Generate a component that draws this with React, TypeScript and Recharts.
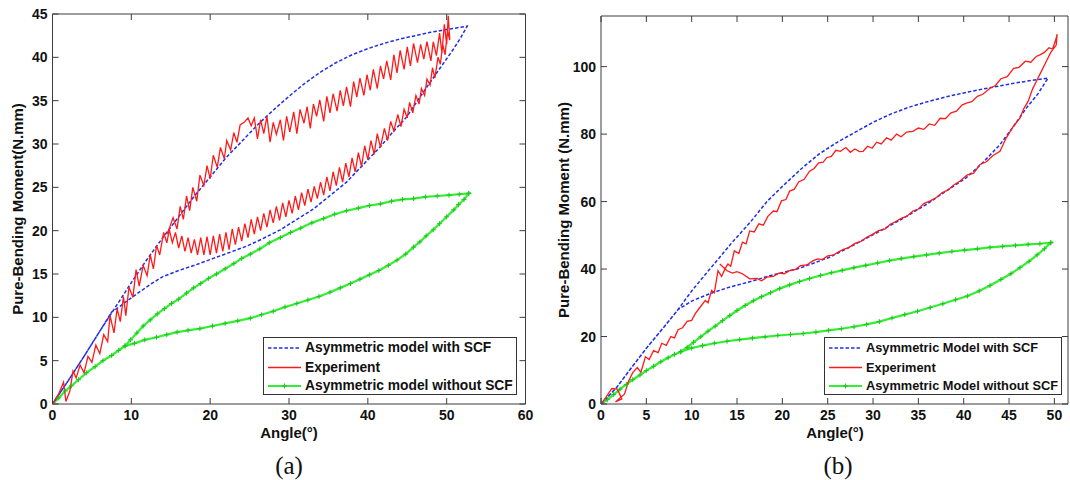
import { LineChart, Line, XAxis, YAxis } from 'recharts'

// ---------- panel (a) ----------
const A_X_TICKS = [0, 10, 20, 30, 40, 50, 60]
const A_Y_TICKS = [0, 5, 10, 15, 20, 25, 30, 35, 40, 45]

const aModelSCFLoad = [
  [0, 0], [2, 2.7], [4, 5.5], [6, 8.4], [8, 11.2], [10, 14], [12, 16.7], [14, 19.2], [16, 21.6],
  [18, 24], [20, 26.2], [22, 28.4], [24, 30.3], [26, 32.2], [28, 33.9], [30, 35.5], [32, 37],
  [34, 38.3], [36, 39.4], [38, 40.3], [40, 41], [42, 41.6], [44, 42.1], [46, 42.5], [48, 42.9],
  [50, 43.2], [52.6, 43.6],
]
const aModelSCFUnload = [
  [52.6, 43.6], [51.8, 42.3], [50.9, 41], [49.2, 38.8], [47.5, 36.6], [44.9, 33.1], [43, 31.2],
  [41.6, 29.7], [39.5, 27.7], [37.3, 25.6], [35, 23.9], [33.1, 22.5], [31, 21.3], [28.9, 20.1],
  [26.5, 19], [24.6, 18.2], [22.5, 17.5], [20.4, 16.8], [18, 16], [16, 15.4], [14, 14.7],
  [12.4, 13.8], [11, 12.9], [9.6, 12], [8.6, 11.3], [7.5, 10.6], [6, 8.4], [4, 5.5], [2, 2.7], [0, 0],
]

const aExperimentLoad = [
  [0, 0], [0.8, 1.2], [1.4, 2.5], [1.7, 0.3], [2.2, 1.5], [2.6, 3.8], [3, 3], [3.5, 4.5], [4, 3.6],
  [4.5, 5.5], [5, 4.8], [5.5, 6.8], [6, 5.8], [6.5, 8], [7, 7.2], [7.3, 10.2], [7.8, 8.2], [8.2, 11],
  [8.6, 9.5], [9, 12.4], [9.3, 10.2], [9.7, 13.5], [10.2, 12.3], [10.6, 15.5], [11, 13.6],
  [11.5, 16], [12, 14.8], [12.4, 17.2], [12.8, 15.6], [13.2, 18.3], [13.6, 17.2], [14.1, 19.8],
  [14.5, 18.6], [14.9, 20.5], [15.3, 21.5], [15.8, 20.2], [16.2, 22.8], [16.6, 21.3], [17, 24],
  [17.4, 22.3], [17.8, 25], [18.3, 23.4], [18.7, 26.4], [19.2, 25.2], [19.6, 27.5], [20, 26],
  [20.4, 28.7], [20.9, 27.3], [21.3, 29.6], [21.8, 28.3], [22.1, 30.4], [22.6, 29.3], [23, 31.3],
  [23.4, 30.2], [23.8, 32.2], [24.3, 32.5], [24.8, 33], [25.2, 32.1], [25.6, 33], [26, 30.6],
  [26.4, 32.8], [26.8, 31.2], [27.2, 33.2], [27.6, 30.2], [28, 32.5], [28.4, 31.1], [28.9, 32.8],
  [29.3, 30.4], [29.7, 33.2], [30.1, 31.4], [30.6, 33.7], [31, 31.2], [31.4, 34], [31.9, 32.4],
  [32.3, 34.3], [32.7, 31.8], [33.1, 34.6], [33.5, 33.2], [33.9, 35.1], [34.4, 32.6], [34.8, 35.5],
  [35.2, 33.6], [35.6, 35.8], [36.1, 33.8], [36.5, 36.2], [36.9, 34.4], [37.3, 36.6], [37.8, 34.3],
  [38.2, 37.2], [38.6, 35.4], [39, 37.6], [39.5, 35.6], [39.9, 38], [40.3, 36.2], [40.7, 38.6],
  [41.2, 36.4], [41.6, 39], [42, 37.5], [42.4, 39.6], [42.9, 37.4], [43.3, 40.3], [43.7, 38.2],
  [44.1, 40.8], [44.6, 38.6], [45, 41.2], [45.4, 39], [45.8, 41.6], [46.3, 39.4], [46.7, 41.5],
  [47.1, 39.8], [47.5, 41.8], [48, 39.6], [48.3, 41.8], [48.7, 40.2], [49.1, 42.8], [49.4, 40.5],
  [49.7, 43.8], [50, 41.5], [50.2, 44.8], [50.4, 42],
]
const aExperimentUnload = [
  [50.4, 42], [50.1, 43], [49.8, 40.3], [49.5, 41.5], [49.2, 39.2], [48.9, 40], [48.5, 37.6],
  [48.2, 38.8], [47.9, 36.8], [47.5, 37.5], [47.2, 35.6], [46.8, 36.4], [46.5, 34.6], [46.1, 35.6],
  [45.7, 33.6], [45.3, 34.8], [45, 33], [44.6, 34], [44.2, 32], [43.8, 33.4], [43.3, 31.5],
  [42.9, 32.6], [42.5, 30.4], [42.1, 31.8], [41.6, 29.6], [41.2, 31.2], [40.8, 28.8], [40.4, 30.4],
  [40, 28.2], [39.6, 29.8], [39.2, 27.4], [38.8, 29], [38.4, 26.8], [38, 28.4], [37.6, 26.2],
  [37.2, 27.8], [36.8, 25.6], [36.4, 27.3], [36, 25.2], [35.6, 26.8], [35.2, 24.6], [34.8, 26.2],
  [34.4, 24.1], [34, 25.6], [33.6, 23.7], [33.2, 25.1], [32.8, 23.3], [32.4, 24.8], [32, 22.9],
  [31.6, 24.4], [31.2, 22.4], [30.8, 24], [30.4, 22], [30, 23.5], [29.6, 21.6], [29.2, 23.2],
  [28.8, 21.2], [28.4, 22.8], [28, 20.9], [27.6, 22.4], [27.2, 20.4], [26.8, 22], [26.4, 20],
  [26, 21.6], [25.6, 19.6], [25.2, 21.3], [24.8, 19.2], [24.4, 20.8], [24, 18.8], [23.6, 20.4],
  [23.2, 18.4], [22.8, 20.2], [22.4, 17.8], [22, 19.8], [21.6, 17.6], [21.2, 19.6], [20.8, 17.4],
  [20.4, 19.4], [20, 17.2], [19.6, 19.3], [19.2, 17.2], [18.8, 19.2], [18.4, 17.2], [18, 19],
  [17.6, 17.4], [17.2, 19.2], [16.8, 17.6], [16.4, 19.4], [16, 18], [15.6, 19.8], [15.2, 18.6],
  [14.8, 20.2], [14.5, 19.6],
]

const aModelNoSCFLoad = [
  [0, 0], [0.8, 0.7], [1.6, 1.5], [2.4, 2.1], [3.3, 2.8], [4.3, 3.6], [5.4, 4.3], [6.4, 5],
  [7.5, 5.6], [8.4, 6.2], [9.2, 6.7], [9.9, 7.4], [10.7, 8.2], [11.5, 9], [12.4, 9.7], [13.3, 10.4],
  [14.2, 11], [15.1, 11.6], [16, 12.1], [17, 12.8], [17.9, 13.4], [18.8, 13.9], [19.8, 14.5],
  [20.8, 15], [21.9, 15.6], [23, 16.2], [24, 16.8], [25.1, 17.3], [26.3, 17.9], [27.5, 18.6],
  [28.9, 19.2], [30.2, 19.8], [31.5, 20.3], [32.9, 20.9], [34.4, 21.4], [35.8, 21.9], [37.3, 22.3],
  [38.8, 22.6], [40.2, 22.9], [41.6, 23.1], [43, 23.4], [44.4, 23.6], [45.8, 23.7], [47.3, 23.9],
  [48.8, 24], [50.3, 24.1], [51.6, 24.2], [52.8, 24.3],
]
const aModelNoSCFUnload = [
  [52.8, 24.3], [52.2, 23.6], [51.5, 23], [50.9, 22.4], [50, 21.6], [49.1, 20.8], [48.3, 20.1],
  [47.4, 19.4], [46.6, 18.7], [45.8, 18.1], [44.8, 17.3], [43.7, 16.6], [42.6, 16], [41.4, 15.4],
  [40.2, 14.9], [39, 14.4], [37.8, 13.9], [36.5, 13.4], [35.2, 12.9], [33.8, 12.4], [32.4, 12],
  [31, 11.6], [29.5, 11.2], [28, 10.7], [26.5, 10.3], [25.1, 9.9], [23.5, 9.6], [21.9, 9.3],
  [20.3, 9], [18.7, 8.7], [17.2, 8.5], [15.8, 8.3], [14.5, 8], [13.2, 7.7], [11.7, 7.4],
  [10.4, 7], [9.2, 6.7],
]

// ---------- panel (b) ----------
const B_X_TICKS = [0, 5, 10, 15, 20, 25, 30, 35, 40, 45, 50]
const B_Y_TICKS = [0, 20, 40, 60, 80, 100]

const bModelSCFLoad = [
  [0, 0], [1.7, 4.8], [3, 9.5], [5, 16.5], [7, 23], [8.5, 28], [10, 33.5], [12, 40], [14.5, 48],
  [16.5, 54], [18.3, 60], [20, 64.5], [22, 69.5], [24, 74], [26, 77.5], [28, 80.5], [30, 83.5],
  [32, 86], [34, 88], [36, 89.6], [38, 91], [40, 92.2], [42, 93.3], [44, 94.3], [46, 95.3],
  [48, 96.1], [49.3, 96.6],
]
const bModelSCFUnload = [
  [49.3, 96.6], [48.2, 92], [46.9, 87.7], [45.5, 82.3], [44, 76.9], [42.2, 71.8], [40.3, 67.1],
  [38, 63], [35.9, 59.2], [33.5, 55.3], [30.8, 51.3], [28, 47.3], [25.2, 43.5], [23.2, 41.5],
  [21.6, 40], [19, 38.3], [16.5, 36.3], [14, 34.5], [11.9, 32.6], [10, 30.5], [8.5, 28], [7, 23],
  [5, 16.5], [3, 9.5], [1.7, 4.8], [0, 0],
]

const bExperimentLoad = [
  [0, 0], [0.5, 1.8], [1.2, 4.6], [1.8, 4.4], [2.3, 1.5], [1.6, 0.6], [2.6, 3], [3, 6.5],
  [3.5, 9.3], [4, 10.8], [4.4, 9.4], [4.9, 14], [5.3, 13.2], [5.8, 15.8], [6.3, 15.2], [6.7, 18],
  [7.2, 17.4], [7.7, 20], [8.1, 19.6], [8.5, 22], [9, 22.6], [9.5, 24.5], [10, 24.8], [10.4, 26.8],
  [10.9, 28.6], [11.5, 30.7], [11.8, 30], [12.2, 33.7], [12.5, 33], [12.9, 39.5], [13.3, 37.8],
  [13.7, 40.2], [14, 41.5], [14.3, 40.8], [14.7, 45.4], [15.2, 44.6], [15.6, 48], [16, 47.5],
  [16.4, 51.3], [16.9, 51], [17.4, 53.4], [17.9, 53], [18.4, 55.6], [19, 57.2], [19.4, 57],
  [19.9, 60.2], [20.4, 60.6], [20.8, 63.1], [21.3, 63.6], [21.8, 65.8], [22.4, 66.6], [23, 69],
  [23.5, 69.8], [24, 71.5], [24.5, 71.7], [24.9, 73], [25.4, 73.4], [25.9, 75.2], [26.4, 74.9],
  [27, 76], [27.5, 74.6], [28, 75.6], [28.5, 74.8], [28.9, 74.9], [29.4, 76.4], [29.9, 75.8],
  [30.4, 77.6], [30.9, 77.1], [31.5, 78.9], [32, 78.2], [32.6, 80], [33.1, 79.2], [33.7, 80.6],
  [34.4, 80.8], [35, 81.8], [35.6, 81.4], [36.2, 83], [36.8, 82.6], [37.4, 84.7], [38, 84.6],
  [38.6, 86.3], [39.2, 86.8], [39.8, 88.6], [40.3, 89.2], [40.9, 89.6], [41.5, 91.2], [42.1, 91.8],
  [42.9, 93.6], [43.5, 94.4], [44.1, 96.4], [44.8, 97], [45.5, 99.5], [46.1, 99.8], [46.8, 101.6],
  [47.4, 101.3], [48, 103], [48.4, 103.5], [48.9, 104.2], [49.4, 105.6], [49.8, 105.2],
  [50.2, 108.4], [50.3, 109.6],
]
const bExperimentUnload = [
  [50.3, 109.6], [50.2, 106.4], [49.6, 104.2], [49.1, 101.5], [48.6, 98.8], [48, 95.6],
  [47.6, 93.4], [47.1, 89.7], [46.6, 87.4], [46.2, 84.7], [45.5, 82.4], [44.7, 78.9], [44.4, 77.2],
  [44, 74.9], [43.2, 73.6], [42.5, 71.8], [41.8, 71], [41.1, 68.4], [40.4, 67.9], [39.6, 66.1],
  [38.9, 64.9], [38.3, 63.5], [37.6, 62.6], [37, 61.2], [36.3, 60.2], [35.6, 59.4], [35, 57.8],
  [34.4, 57.2], [33.7, 55.6], [33.1, 55], [32.5, 54.1], [31.9, 53.3], [31.3, 51.8], [30.6, 51.4],
  [29.9, 50.2], [29.3, 49.4], [28.6, 48.1], [28, 47.6], [27.3, 46.3], [26.8, 45.9], [26.4, 45.4],
  [25.6, 44.1], [25, 43.9], [24.4, 42.8], [23.9, 43], [23.4, 42.5], [22.7, 41.2], [22, 41],
  [21.4, 39.8], [20.8, 39.5], [20.2, 38.6], [19.6, 38.8], [19, 37.8], [18.3, 37.6], [17.7, 36.5],
  [17.2, 37.2], [16.4, 37.1], [15.6, 38.6], [15, 39.2], [14.5, 38.8], [13.9, 39.5], [13.1, 41.5],
]

const bModelNoSCFLoad = [
  [0, 0], [0.7, 1.3], [1.4, 2.8], [2.1, 4.4], [2.8, 5.8], [3.5, 7.2], [4.3, 8.6], [5, 9.9],
  [5.8, 11.2], [6.6, 12.5], [7.4, 13.7], [8.1, 14.7], [8.8, 15.5], [9.5, 16.8], [10.2, 18.3],
  [11, 19.9], [11.8, 21.6], [12.6, 23.1], [13.4, 24.7], [14.2, 26.2], [15, 27.7], [15.9, 29.2],
  [16.8, 30.6], [17.7, 31.8], [18.7, 33], [19.7, 34.2], [20.8, 35.3], [21.9, 36.3], [23, 37.2],
  [24.2, 38.1], [25.4, 38.9], [26.6, 39.6], [27.9, 40.4], [29.2, 41.1], [30.5, 41.8], [31.8, 42.5],
  [33.1, 43.1], [34.5, 43.7], [35.9, 44.2], [37.3, 44.7], [38.7, 45.2], [40.1, 45.6], [41.5, 46],
  [42.9, 46.4], [44.3, 46.7], [45.7, 47], [47.1, 47.3], [48.4, 47.5], [49.6, 47.8],
]
const bModelNoSCFUnload = [
  [49.6, 47.8], [48.9, 46], [48.1, 44.2], [47.2, 42.3], [46.2, 40.4], [45.2, 38.6], [44.1, 36.9],
  [42.9, 35.1], [41.7, 33.5], [40.4, 32], [39.1, 30.9], [37.7, 29.7], [36.3, 28.6], [34.9, 27.5],
  [33.5, 26.5], [32.1, 25.5], [30.7, 24.4], [29.3, 23.6], [27.9, 22.9], [26.5, 22.3], [25.1, 21.8],
  [23.7, 21.3], [22.3, 20.9], [20.9, 20.6], [19.5, 20.3], [18.1, 19.9], [16.7, 19.5], [15.3, 19.1],
  [13.9, 18.6], [12.5, 18], [11.2, 17.3], [10, 16.6], [8.8, 15.5],
]

const BLUE = '#1f2fe6'
const RED = '#ff1a1a'
const GREEN = '#33ee33'
const GREEN_DARK = '#22c422'
const AXIS = '#3c3c3c'
const SANS = '"Liberation Sans", Arial, sans-serif'
const SERIF = '"Liberation Serif", "Times New Roman", serif'
const TICK_LEN = 6

const toPoints = (pairs: number[][]) => pairs.map(([x, y]) => ({ x, y }))

const labelStyle = { fontSize: 14, fontWeight: 700, fill: '#111', fontFamily: SANS }

// inward tick marks, matlab style; label offsets follow tickMargin below
const BottomTick = ({ x, y, payload }: any) => (
  <g>
    <line x1={x} x2={x} y1={y - 8} y2={y - 8 - TICK_LEN} stroke={AXIS} />
    <text x={x} y={y + 7.5} textAnchor="middle" {...labelStyle}>{payload.value}</text>
  </g>
)
const LeftTick = ({ x, y, payload }: any) => (
  <g>
    <line x1={x + 5} x2={x + 5 + TICK_LEN} y1={y} y2={y} stroke={AXIS} />
    <text x={x} y={y + 5} textAnchor="end" {...labelStyle}>{payload.value}</text>
  </g>
)
const TopTick = ({ x, y }: any) => <line x1={x} x2={x} y1={y} y2={y + TICK_LEN} stroke={AXIS} />
const RightTick = ({ x, y }: any) => <line x1={x} x2={x - TICK_LEN} y1={y} y2={y} stroke={AXIS} />

const PlusDot = (props: any) => {
  const { cx, cy, index } = props
  if (cx == null || cy == null) return null
  return (
    <g key={`p-${index}`}>
      <line x1={cx - 2.5} x2={cx + 2.5} y1={cy} y2={cy} stroke={GREEN_DARK} strokeWidth={1} />
      <line x1={cx} x2={cx} y1={cy - 2.5} y2={cy + 2.5} stroke={GREEN_DARK} strokeWidth={1} />
    </g>
  )
}

type PanelProps = {
  left: number
  width: number
  height: number
  margin: { top: number; right: number; bottom: number; left: number }
  yAxisWidth: number
  xDomain: [number, number]
  yDomain: [number, number]
  xTicks: number[]
  yTicks: number[]
  scf: number[][]
  experiment: number[][]
  noScf: number[][]
}

function Panel(p: PanelProps) {
  return (
    <div style={{ position: 'absolute', left: p.left, top: 0 }}>
      <LineChart width={p.width} height={p.height} margin={p.margin}>
        <XAxis
          dataKey="x"
          type="number"
          domain={p.xDomain}
          ticks={p.xTicks}
          interval={0}
          allowDataOverflow
          height={36}
          tickSize={0}
          tickMargin={8}
          tickLine={false}
          tick={<BottomTick />}
          stroke={AXIS}
        />
        <XAxis
          xAxisId="top"
          orientation="top"
          dataKey="x"
          type="number"
          domain={p.xDomain}
          ticks={p.xTicks}
          interval={0}
          allowDataOverflow
          height={2}
          tickSize={0}
          tickMargin={0}
          tickLine={false}
          tick={<TopTick />}
          stroke={AXIS}
        />
        <YAxis
          dataKey="y"
          type="number"
          domain={p.yDomain}
          ticks={p.yTicks}
          interval={0}
          allowDataOverflow
          width={p.yAxisWidth}
          tickSize={0}
          tickMargin={5}
          tickLine={false}
          tick={<LeftTick />}
          stroke={AXIS}
        />
        <YAxis
          yAxisId="right"
          orientation="right"
          type="number"
          domain={p.yDomain}
          ticks={p.yTicks}
          interval={0}
          allowDataOverflow
          width={2}
          tickSize={0}
          tickMargin={0}
          tickLine={false}
          tick={<RightTick />}
          stroke={AXIS}
        />
        <Line
          data={toPoints(p.noScf)}
          dataKey="y"
          type="linear"
          stroke={GREEN}
          strokeWidth={2.2}
          dot={PlusDot}
          activeDot={false}
          isAnimationActive={false}
        />
        <Line
          data={toPoints(p.scf)}
          dataKey="y"
          type="linear"
          stroke={BLUE}
          strokeWidth={1.5}
          strokeDasharray="3.5 2"
          dot={false}
          activeDot={false}
          isAnimationActive={false}
        />
        <Line
          data={toPoints(p.experiment)}
          dataKey="y"
          type="linear"
          stroke={RED}
          strokeWidth={1.3}
          dot={false}
          activeDot={false}
          isAnimationActive={false}
        />
      </LineChart>
    </div>
  )
}

type LegendProps = { left: number; top: number; width: number; fontSize: number; labels: string[] }

function LegendBox({ left, top, width, fontSize, labels }: LegendProps) {
  const rowY = [10, 29.5, 48]
  return (
    <div
      style={{
        position: 'absolute',
        left,
        top,
        width,
        height: 58,
        border: '1px solid #333',
        background: '#fff',
        boxSizing: 'border-box',
      }}
    >
      <svg width={40} height={58} style={{ position: 'absolute', left: 0, top: 0 }}>
        <line x1={4} x2={37} y1={rowY[0]} y2={rowY[0]} stroke={BLUE} strokeWidth={1.5} strokeDasharray="3.5 2" />
        <line x1={4} x2={37} y1={rowY[1]} y2={rowY[1]} stroke={RED} strokeWidth={1.3} />
        <line x1={4} x2={37} y1={rowY[2]} y2={rowY[2]} stroke={GREEN} strokeWidth={2} />
        <line x1={18} x2={23} y1={rowY[2]} y2={rowY[2]} stroke={GREEN_DARK} strokeWidth={1} />
        <line x1={20.5} x2={20.5} y1={rowY[2] - 2.5} y2={rowY[2] + 2.5} stroke={GREEN_DARK} strokeWidth={1} />
      </svg>
      {labels.map((l, i) => (
        <div
          key={l}
          style={{
            position: 'absolute',
            left: 41,
            top: rowY[i] - 9,
            height: 18,
            lineHeight: '18px',
            fontFamily: SANS,
            fontWeight: 700,
            fontSize,
            color: '#111',
            whiteSpace: 'nowrap',
          }}
        >
          {l}
        </div>
      ))}
    </div>
  )
}

export default function App() {
  const title = { fontFamily: SANS, fontWeight: 700, fontSize: 15, fill: '#111' }
  const caption = { fontFamily: SERIF, fontSize: 25, fill: '#111' }
  return (
    <div style={{ position: 'absolute', left: 0, top: 0, width: 1070, height: 480, background: '#fff', overflow: 'hidden' }}>
      <Panel
        left={0}
        width={540}
        height={440}
        margin={{ top: 12, right: 12.5, bottom: 0, left: 0 }}
        yAxisWidth={52.5}
        xDomain={[0, 60]}
        yDomain={[0, 45]}
        xTicks={A_X_TICKS}
        yTicks={A_Y_TICKS}
        scf={[...aModelSCFLoad, ...aModelSCFUnload]}
        experiment={[...aExperimentLoad, ...aExperimentUnload]}
        noScf={[...aModelNoSCFLoad, ...aModelNoSCFUnload]}
      />
      <Panel
        left={540}
        width={530}
        height={440}
        margin={{ top: 14, right: 0, bottom: 0, left: 0 }}
        yAxisWidth={61}
        xDomain={[0, 51.5]}
        yDomain={[0, 115]}
        xTicks={B_X_TICKS}
        yTicks={B_Y_TICKS}
        scf={[...bModelSCFLoad, ...bModelSCFUnload]}
        experiment={[...bExperimentLoad, ...bExperimentUnload]}
        noScf={[...bModelNoSCFLoad, ...bModelNoSCFUnload]}
      />

      <svg width={1070} height={480} style={{ position: 'absolute', left: 0, top: 0, pointerEvents: 'none' }}>
        <text x={289} y={438} textAnchor="middle" {...title}>Angle(°)</text>
        <text x={835} y={438} textAnchor="middle" {...title}>Angle(°)</text>
        <text x={23} y={209} textAnchor="middle" transform="rotate(-90 23 209)" {...title}>
          Pure-Bending Moment(N.mm)
        </text>
        <text x={569} y={210} textAnchor="middle" transform="rotate(-90 569 210)" {...title}>
          {'Pure-Bending Moment (N.mm)'}
        </text>
        <text x={289} y={474} textAnchor="middle" {...caption}>(a)</text>
        <text x={838} y={474} textAnchor="middle" {...caption}>(b)</text>
      </svg>

      <LegendBox
        left={263}
        top={337}
        width={254}
        fontSize={13.8}
        labels={['Asymmetric model with SCF', 'Experiment', 'Asymmetric model without SCF']}
      />
      <LegendBox
        left={824}
        top={337}
        width={238}
        fontSize={12.8}
        labels={['Asymmetric Model with SCF', 'Experiment', 'Asymmetric Model without SCF']}
      />
    </div>
  )
}
